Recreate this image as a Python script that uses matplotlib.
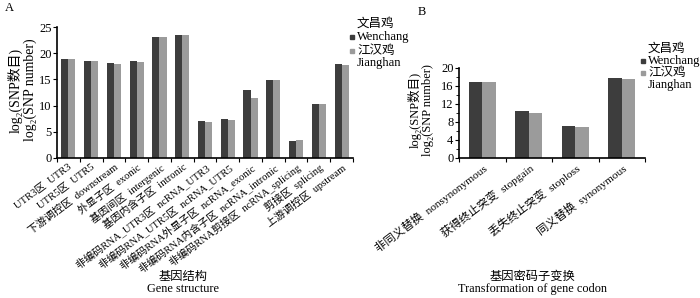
import matplotlib.pyplot as plt
import numpy as np
from matplotlib.lines import Line2D

plt.rcParams['font.family'] = ['Liberation Serif', 'Noto Sans CJK SC', 'DejaVu Sans']

# panel A: gene structure
struct_labels = ['UTR3区  UTR3', 'UTR5区  UTR5', '下游调控区  downstream', '外显子区  exonic',
                 '基因间区  intergenic', '基因内含子区  intronic', '非编码RNA_UTR3区  ncRNA_UTR3',
                 '非编码RNA_UTR5区  ncRNA_UTR5', '非编码RNA外显子区  ncRNA_exonic',
                 '非编码RNA内含子区  ncRNA_intronic', '非编码RNA剪接区  ncRNA_splicing',
                 '剪接区  splicing', '上游调控区  upstream']
struct_wenchang = [18.9, 18.6, 18.1, 18.5, 23.0, 23.5, 7.1, 7.4, 12.9, 14.9, 3.3, 10.4, 17.9]
struct_jianghan = [18.8, 18.6, 18.0, 18.4, 23.0, 23.5, 6.9, 7.3, 11.5, 14.8, 3.5, 10.3, 17.8]

# panel B: codon change
codon_labels = ['非同义替换  nonsynonymous', '获得终止突变  stopgain',
                '丢失终止突变  stoploss', '同义替换  synonymous']
codon_wenchang = [17.0, 10.4, 7.2, 17.7]
codon_jianghan = [16.8, 10.1, 7.0, 17.6]

dark = '#3d3d3d'
light = '#9b9b9b'
W, H = 700, 298

fig = plt.figure(figsize=(7, 2.98), dpi=100)


def px_axes(l, r, t, b):
    return fig.add_axes([l / W, 1 - b / H, (r - l) / W, (b - t) / H])


def draw(ax, labels, a, b, w, ymax, major, minor, fs):
    x = np.arange(len(labels))
    ax.bar(x - w / 2, a, w, color=dark)
    ax.bar(x + w / 2, b, w, color=light)
    ax.set_xlim(-0.5, len(labels) - 0.5)
    ax.set_ylim(0, ymax)
    for s in ['top', 'right']:
        ax.spines[s].set_visible(False)
    for s in ['left', 'bottom']:
        ax.spines[s].set_linewidth(1.2)
    ax.set_yticks(np.arange(0, ymax + 0.1, major))
    if minor:
        ax.set_yticks(np.arange(0, ymax + 0.1, minor), minor=True)
    ax.tick_params(axis='y', direction='out', length=3, width=0.8, labelsize=9, pad=1)
    ax.tick_params(axis='y', which='minor', length=2, width=0.6)
    ax.set_xticks(np.arange(-0.5, len(labels), 1))
    ax.set_xticklabels([])
    ax.set_xticks(x, minor=True)
    ax.set_xticklabels(labels, minor=True, rotation=37, ha='right',
                       rotation_mode='anchor', fontsize=fs)
    ax.tick_params(axis='x', which='major', direction='out', length=3, width=0.8)
    ax.tick_params(axis='x', which='minor', length=0, pad=3)


axA = px_axes(57, 353, 27, 158)
draw(axA, struct_labels, struct_wenchang, struct_jianghan, 0.31, 25, 5, None, 7.6)
axB = px_axes(459, 645, 68, 158)
draw(axB, codon_labels, codon_wenchang, codon_jianghan, 0.29, 20, 4, 2, 8.2)

ylab = 'log\u2082(SNP数目)\nlog\u2082(SNP number)'
fig.text(22 / W, 1 - 90 / H, ylab, rotation=90, ha='center', va='center',
         fontsize=10, linespacing=1.05, multialignment='center')
fig.text(421 / W, 1 - 110 / H, ylab, rotation=90, ha='center', va='center',
         fontsize=9, linespacing=1.05, multialignment='center')

fig.text(183 / W, 1 - 283 / H, '基因结构\nGene structure', ha='center', va='center',
         fontsize=8.8, linespacing=1.1)
fig.text(532 / W, 1 - 283 / H, '基因密码子变换\nTransformation of gene codon',
         ha='center', va='center', fontsize=8.8, linespacing=1.1)

fig.text(5 / W, 1 - 8 / H, 'A', fontsize=9, va='center')
fig.text(418 / W, 1 - 12 / H, 'B', fontsize=9, va='center')


def legend(x0, ys):
    items = [('文昌鸡', 'Wenchang', dark), ('江汉鸡', 'Jianghan', light)]
    for i, (cn, en, c) in enumerate(items):
        y1, y2 = ys[2 * i], ys[2 * i + 1]
        fig.text((x0 + 5) / W, 1 - y1 / H, cn, fontsize=9, va='center')
        fig.text((x0 + 5) / W, 1 - y2 / H, en, fontsize=9, va='center')
        ym = y2 if i == 0 else y1
        fig.add_artist(Line2D([x0 / W], [1 - ym / H], marker='s', markersize=3,
                              color=c, linestyle='none'))


legend(352, [24, 37, 51, 63])
legend(643, [49, 61, 73, 85])

fig.savefig('out.png', dpi=100)
